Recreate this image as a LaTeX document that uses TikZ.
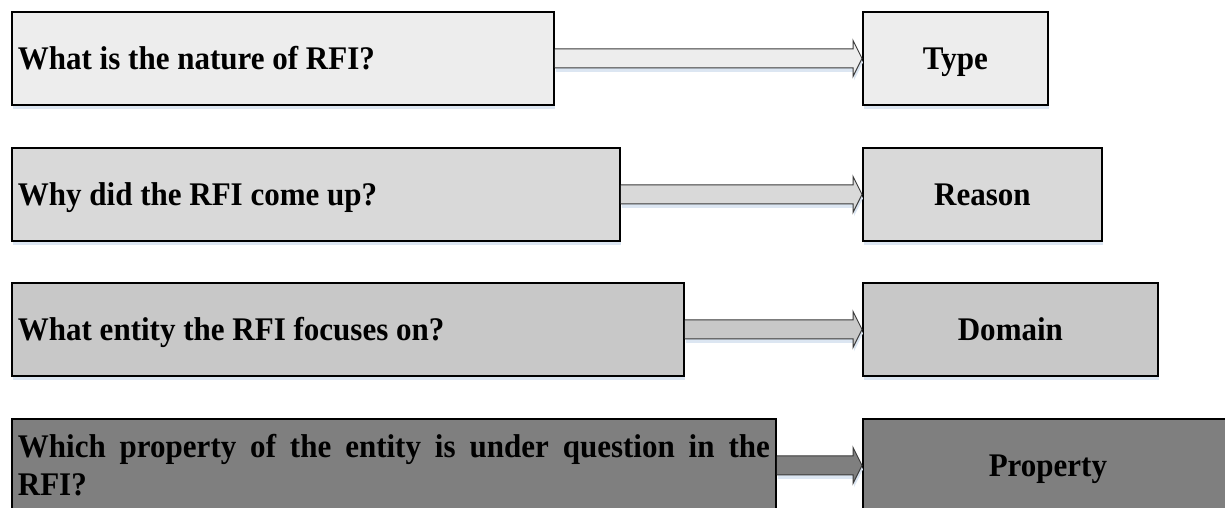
\documentclass[tikz,border=0pt]{standalone}
\usepackage{fontspec}
\setmainfont[FakeStretch=0.94]{Liberation Serif}
\usetikzlibrary{calc,shadows}
\definecolor{toneA}{HTML}{EDEDED}
\definecolor{toneB}{HTML}{D9D9D9}
\definecolor{toneC}{HTML}{C8C8C8}
\definecolor{toneD}{HTML}{7F7F7F}
\definecolor{haze}{HTML}{DCE6F2}
\definecolor{rim}{HTML}{3A3A3A}
\tolerance=10000
\hyphenpenalty=10000

\tikzset{
  boxfont/.style={font=\fontsize{33}{38}\selectfont\bfseries},
  haloshadow/.style={drop shadow={fill=haze,opacity=1,shadow xshift=1pt,shadow yshift=-4pt}},
  qbox/.style={draw=black,line width=1.8pt,anchor=north west,minimum height=93pt,
    inner xsep=6pt,align=justify,boxfont,haloshadow},
  abox/.style={draw=black,line width=1.8pt,anchor=north west,minimum height=93pt,
    text height=21.8pt,text depth=0pt,boxfont,haloshadow},
  oneline/.style={text height=21.8pt,text depth=0pt},
  twoline/.style={},
  facetarrow/.style={draw=rim,line width=1pt,line join=miter,haloshadow}
}

\begin{document}
\begin{tikzpicture}[x=1pt,y=-1pt]
  \useasboundingbox (0,0) rectangle (1225,508);
  \clip (0,0) rectangle (1225,508);
  % ----- question -> facet rows -----
  \foreach \i/\yy/\wq/\tw/\wa/\tone/\lay/\qq/\ans in {
     1/11/542/530/185/toneA/oneline/What is the nature of RFI?/Type,
     2/147/608/596/239/toneB/oneline/Why did the RFI come up?/Reason,
     3/282/672/660/295/toneC/oneline/What entity the RFI focuses on?/Domain,
     4/418/764/752/370/toneD/twoline/Which property of the entity is under question in the\linebreak RFI?/Property}{
    \node[qbox,fill=\tone,\lay,minimum width=\wq pt,text width=\tw pt] (q\i) at (11,\yy){\qq};
    \node[abox,fill=\tone,minimum width=\wa pt] (a\i) at (862,\yy){\ans};
    % block arrow
    \draw[facetarrow,fill=\tone] ($(q\i.east)+(0,-9.5)$) -- ($(a\i.west)+(-9,-9.5)$)
      -- ($(a\i.west)+(-9,-18)$) -- (a\i.west) -- ($(a\i.west)+(-9,18)$)
      -- ($(a\i.west)+(-9,9.5)$) -- ($(q\i.east)+(0,9.5)$);
  }
\end{tikzpicture}
\end{document}
